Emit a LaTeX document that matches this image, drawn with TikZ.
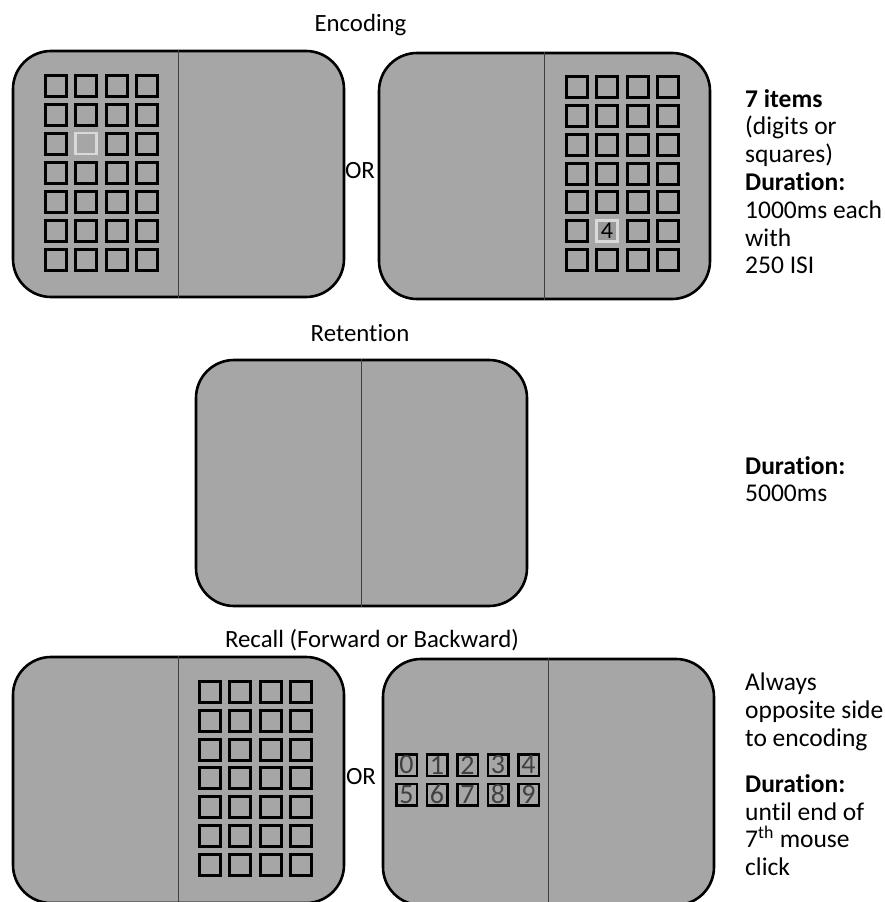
\documentclass[tikz,border=0pt]{standalone}
\usepackage{fontspec}
\setmainfont[Ligatures=NoCommon]{Carlito}
\usetikzlibrary{positioning}

\definecolor{screen}{HTML}{A6A6A6}
\definecolor{divide}{HTML}{404040}
\definecolor{hilite}{HTML}{D9D9D9}
\definecolor{litfill}{HTML}{9A9A9A}

\begin{document}
\begin{tikzpicture}[x=1pt, y=-1pt,
  panel/.style={draw=black, line width=2.6pt, fill=screen, rounded corners=38pt,
                minimum width=331pt, minimum height=246pt, inner sep=0pt},
  cell/.style={draw=black, line width=3pt, minimum size=21pt, inner sep=0pt,
               font=\fontsize{24}{24}\selectfont},
  lit/.style={cell, draw=hilite, line width=2.6pt},
  litnum/.style={lit, fill=litfill},
  digitbox/.style={draw=black, line width=2.5pt, minimum width=20.5pt,
                   minimum height=21.5pt, inner sep=0pt, text=black!75,
                   font=\fontsize{28}{28}\selectfont},
  divider/.style={draw=divide, line width=1.5pt},
  title/.style={font=\fontsize{24.8}{28}\selectfont},
  note/.style={font=\fontsize{25.5}{27.8}\selectfont, align=left,
               anchor=north west, inner sep=0pt}
]
\useasboundingbox (0,0) rectangle (885,902);
\clip (0,0) rectangle (885,902);

% encoding
\node[title] (enc) at (360.5,25) {Encoding};
\node[panel] (tl) at (178.5,174) {};
\node[panel] (tr) at (544.5,176) {};
\draw[divider] (tl.north) -- (tl.south);
\draw[divider] (tr.north) -- (tr.south);
\node[title] (or1) at (360,171) {OR};

\foreach \r in {0,...,6}
  \foreach \c in {0,...,3}{
    \ifnum\r\c=21 \def\look{lit}\else\def\look{cell}\fi
    \node[\look] (tl-\r-\c) at (55.5+30.5*\c, 85.5+29*\r) {};
  }
\foreach \r in {0,...,6}
  \foreach \c in {0,...,3}{
    \ifnum\r\c=51 \def\look{litnum}\else\def\look{cell}\fi
    \node[\look] (tr-\r-\c) at (576.5+30.5*\c, 87+28.85*\r) {\ifnum\r\c=51 4\fi};
  }

\node[note] (encnote) at (745,89)
  {\textbf{7 items}\\(digits or\\squares)\\\textbf{Duration:}\\1000ms each\\with\\250 ISI};

% retention
\node[title] (ret) at (360,333) {Retention};
\node[panel] (mid) at (361.5,483) {};
\draw[divider] (mid.north) -- (mid.south);
\node[note] (retnote) at (745,456) {\textbf{Duration:}\\5000ms};

% recall
\node[title] (rec) at (372,640) {Recall (Forward or Backward)};
\node[panel] (bl) at (178.5,780) {};
\node[panel] (br) at (548.5,782) {};
\draw[divider] (bl.north) -- (bl.south);
\draw[divider] (br.north) -- (br.south);
\node[title] (or2) at (361,777) {OR};

\foreach \r in {0,...,6}
  \foreach \c in {0,...,3}
    \node[cell] (bl-\r-\c) at (209.5+30.5*\c, 692+28.8*\r) {};
\foreach \d in {0,...,9}{
  \pgfmathtruncatemacro\c{mod(\d,5)}
  \pgfmathtruncatemacro\r{\d/5}
  \node[digitbox] (key-\d) at (406.5+30.5*\c, 765+29.5*\r) {\d};
}

\node[note] (recnote) at (745,673)
  {Always\\opposite side\\to encoding\\[18pt]\textbf{Duration:}\\until end of\\7\textsuperscript{th} mouse\\click};

\end{tikzpicture}
\end{document}
